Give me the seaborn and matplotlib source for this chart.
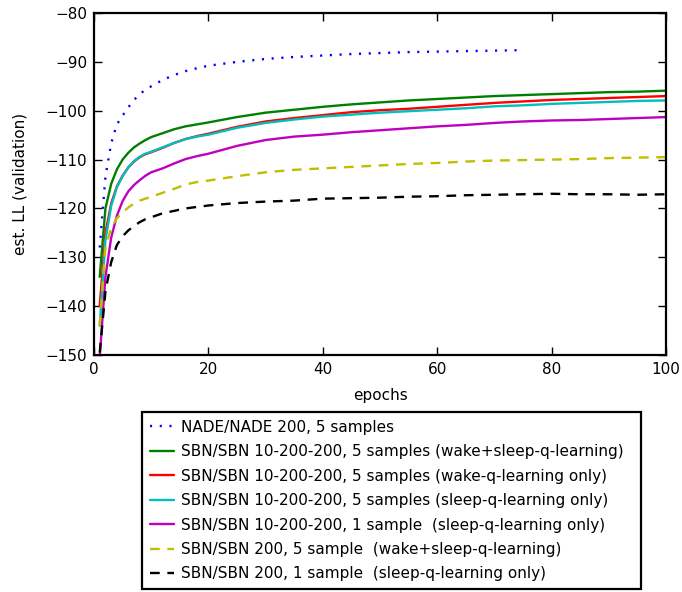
import matplotlib
matplotlib.use("Agg")
import matplotlib.pyplot as plt
import seaborn as sns
import numpy as np

epochs = [1, 2, 3, 4, 5, 6, 7, 8, 9, 10, 12, 14, 16, 18, 20,
          25, 30, 35, 40, 45, 50, 55, 60, 65, 70, 75, 80, 85, 90, 95, 100]
epochs_nade = epochs[:26]  # NADE run stops at epoch 75

nade_5 = [-128.0, -113.5, -106.7, -102.8, -101.0, -99.3, -97.8, -96.6, -95.7, -95.0,
          -93.7, -92.7, -91.9, -91.3, -90.8,
          -90.0, -89.4, -89.0, -88.7, -88.4, -88.2, -88.0, -87.9, -87.8, -87.7, -87.6]
sbn3_5_wake_sleep = [-134.0, -120.0, -115.0, -112.0, -110.0, -108.6, -107.5, -106.7, -106.0, -105.4,
                     -104.6, -103.8, -103.2, -102.8, -102.4,
                     -101.3, -100.4, -99.8, -99.2, -98.7, -98.3, -97.9, -97.6, -97.3, -97.0,
                     -96.8, -96.6, -96.4, -96.2, -96.1, -95.9]
sbn3_5_wake = [-140.0, -125.0, -119.0, -115.5, -113.3, -111.6, -110.4, -109.5, -108.9, -108.5,
               -107.6, -106.6, -105.8, -105.2, -104.7,
               -103.3, -102.2, -101.5, -100.9, -100.3, -99.9, -99.6, -99.2, -98.8, -98.4,
               -98.1, -97.8, -97.6, -97.4, -97.2, -97.0]
sbn3_5_sleep = [-144.0, -126.5, -119.5, -115.7, -113.4, -111.6, -110.3, -109.4, -108.8, -108.4,
                -107.5, -106.6, -105.8, -105.3, -104.9,
                -103.5, -102.5, -101.8, -101.2, -100.8, -100.4, -100.1, -99.8, -99.5, -99.1,
                -98.9, -98.6, -98.4, -98.2, -98.0, -97.9]
sbn3_1_sleep = [-150.5, -134.0, -126.0, -121.5, -118.5, -116.5, -115.2, -114.2, -113.3, -112.6,
                -111.8, -110.8, -109.9, -109.3, -108.8,
                -107.2, -106.0, -105.3, -104.9, -104.4, -104.0, -103.6, -103.2, -102.9, -102.5,
                -102.2, -102.0, -101.9, -101.7, -101.5, -101.3]
sbn1_5_wake_sleep = [-144.0, -128.0, -124.0, -122.0, -120.8, -119.8, -119.0, -118.4, -118.0, -117.6,
                     -116.8, -116.0, -115.1, -114.6, -114.3,
                     -113.4, -112.6, -112.1, -111.8, -111.5, -111.2, -110.9, -110.7, -110.4, -110.2,
                     -110.1, -110.0, -109.9, -109.7, -109.6, -109.5]
sbn1_1_sleep = [-149.5, -137.0, -131.0, -127.5, -125.7, -124.5, -123.6, -122.8, -122.2, -121.8,
                -121.0, -120.5, -120.0, -119.7, -119.4,
                -118.9, -118.6, -118.4, -118.0, -117.9, -117.8, -117.6, -117.5, -117.3, -117.2,
                -117.1, -117.0, -117.1, -117.1, -117.2, -117.1]

labels = [
    "NADE/NADE 200, 5 samples",
    "SBN/SBN 10-200-200, 5 samples (wake+sleep-q-learning)",
    "SBN/SBN 10-200-200, 5 samples (wake-q-learning only)",
    "SBN/SBN 10-200-200, 5 samples (sleep-q-learning only)",
    "SBN/SBN 10-200-200, 1 sample  (sleep-q-learning only)",
    "SBN/SBN 200, 5 sample  (wake+sleep-q-learning)",
    "SBN/SBN 200, 1 sample  (sleep-q-learning only)",
]
series = [nade_5, sbn3_5_wake_sleep, sbn3_5_wake, sbn3_5_sleep,
          sbn3_1_sleep, sbn1_5_wake_sleep, sbn1_1_sleep]
xs = [epochs_nade] + [epochs] * 6
colors = ["#0000ff", "#008000", "#ff0000", "#00bfbf", "#bf00bf", "#bfbf00", "#000000"]
dash_styles = [(1.5, 5.5), None, None, None, None, (7, 5.5), (7, 5.5)]

sns.set_style("ticks")
plt.rcParams["font.family"] = ["DejaVu Sans"]
plt.rcParams["font.size"] = 11
plt.rcParams["text.color"] = "black"
plt.rcParams["axes.labelcolor"] = "black"
plt.rcParams["lines.scale_dashes"] = False

fig = plt.figure(figsize=(6.82, 5.92), dpi=100)
ax = fig.add_axes([94 / 682, 1 - 355 / 592, 572 / 682, 342 / 592])

for x, y, c, d, lab in zip(xs, series, colors, dash_styles, labels):
    kw = {}
    if d is not None:
        kw["dashes"] = d
    sns.lineplot(x=x, y=y, ax=ax, color=c, linewidth=1.7, label=lab, **kw)

ax.set_xlim(0, 100)
ax.set_ylim(-150, -80)
ax.set_xticks(np.arange(0, 101, 20))
ax.set_yticks(np.arange(-150, -79, 10))
ax.set_xlabel("epochs", fontsize=11, labelpad=8)
ax.set_ylabel("est. LL (validation)", fontsize=11, labelpad=13)
ax.tick_params(direction="in", length=6, width=1, top=True, right=True,
               labelsize=11, colors="black", pad=5)
for s in ax.spines.values():
    s.set_linewidth(1.6)
    s.set_color("black")

handles, labs = ax.get_legend_handles_labels()
ax.get_legend().remove()
leg = fig.legend(handles, labs, loc="upper left", mode="expand",
                 bbox_to_anchor=(142 / 682, 1 - 412 / 592, 499 / 682, 0.0),
                 fontsize=11, fancybox=False, framealpha=1, edgecolor="black",
                 handlelength=1.6, handletextpad=0.45, borderpad=0.5,
                 borderaxespad=0, labelspacing=0.62)
leg.get_frame().set_linewidth(1.6)

fig.savefig("out.png", dpi=100)
